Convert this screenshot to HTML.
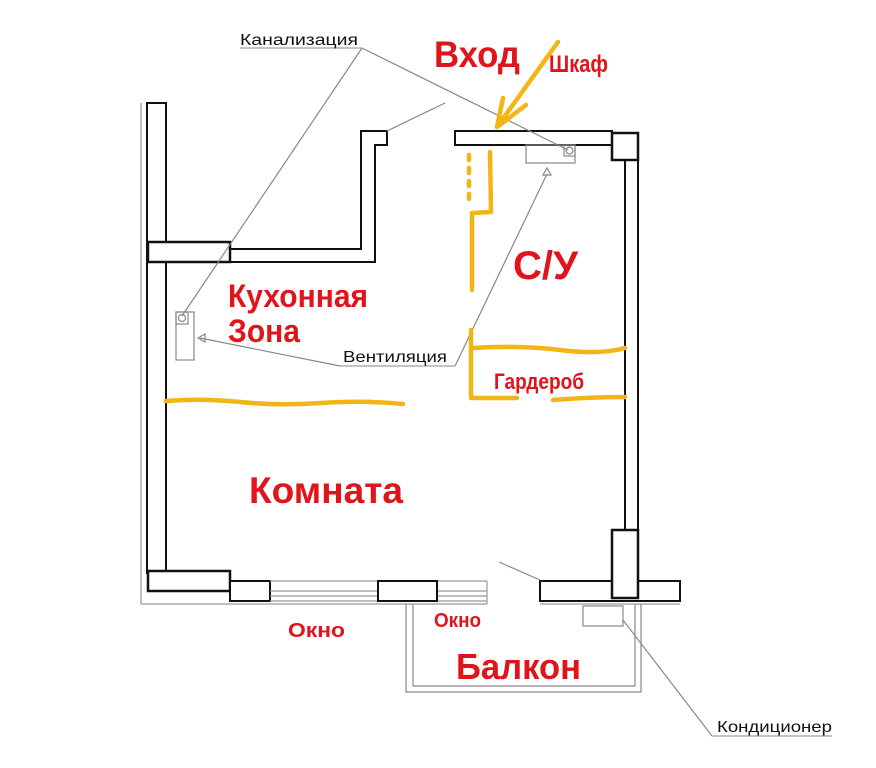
<!DOCTYPE html>
<html><head><meta charset="utf-8"><style>
html,body{margin:0;padding:0;background:#fff;}
svg{display:block;}
.r{font-family:"Liberation Sans","Noto Sans CJK SC",sans-serif;font-weight:bold;fill:#e0141b;}
.b{font-family:"Liberation Sans","Noto Sans CJK SC",sans-serif;fill:#111;}
</style></head><body>
<svg width="876" height="768" viewBox="0 0 876 768" xmlns="http://www.w3.org/2000/svg">
<g fill="#fff" stroke="#111" stroke-width="2">
 <line x1="141" y1="103" x2="141" y2="604" stroke="#aaa" stroke-width="1.5"/>
 <rect x="147" y="103" width="19" height="470"/>
 <rect x="148" y="242" width="82" height="20" stroke-width="2.5"/>
 <polyline points="230,249 361,249 361,131 387,131 387,145 375,145 375,262 230,262" fill="none"/>
 <rect x="455" y="131" width="157" height="14"/>
 <rect x="612" y="133" width="26" height="27" stroke-width="2.5"/>
 <line x1="625" y1="160" x2="625" y2="530"/>
 <line x1="638" y1="160" x2="638" y2="530"/>
 <line x1="141" y1="604" x2="487" y2="604" stroke="#aaa" stroke-width="1.5"/>
 <rect x="148" y="571" width="82" height="20" stroke-width="2.5"/>
 <rect x="230" y="581" width="40" height="20"/>
 <g stroke="#999" stroke-width="1.2">
  <line x1="270" y1="581" x2="378" y2="581"/><line x1="270" y1="591" x2="378" y2="591"/>
  <line x1="270" y1="596" x2="378" y2="596"/><line x1="270" y1="601" x2="378" y2="601"/>
  <line x1="437" y1="581" x2="487" y2="581"/><line x1="437" y1="591" x2="487" y2="591"/>
  <line x1="437" y1="596" x2="487" y2="596"/><line x1="437" y1="601" x2="487" y2="601"/>
  <line x1="487" y1="581" x2="487" y2="604"/>
 </g>
 <rect x="378" y="581" width="59" height="20"/>
 <rect x="540" y="581" width="140" height="20"/>
 <line x1="540" y1="604" x2="680" y2="604" stroke="#aaa" stroke-width="1.5"/>
 <rect x="612" y="530" width="26" height="68" stroke-width="2.5"/>
</g>
<g fill="none" stroke="#888" stroke-width="1.2">
 <polyline points="406,604 406,692 641,692 641,604"/>
 <polyline points="413,604 413,686 635,686 635,604"/>
 <rect x="583" y="606" width="40" height="20"/>
 <line x1="387" y1="131" x2="445" y2="103"/>
 <line x1="499" y1="562" x2="540" y2="580"/>
 <rect x="526" y="145" width="49" height="18"/>
 <rect x="564" y="145" width="11" height="11"/>
 <circle cx="569.5" cy="150.5" r="3.5"/>
 <rect x="176" y="312" width="18" height="48"/>
 <rect x="176" y="312" width="12" height="12"/>
 <circle cx="182" cy="318" r="3.5"/>
 <line x1="240" y1="48" x2="362" y2="48" stroke-width="1"/>
 <line x1="362" y1="48" x2="182" y2="316"/>
 <line x1="362" y1="48" x2="568" y2="150"/>
 <line x1="340" y1="366" x2="455" y2="366" stroke-width="1"/>
 <line x1="340" y1="366" x2="200" y2="338"/>
 <polygon points="198,338 205,334 205,342"/>
 <line x1="455" y1="366" x2="547" y2="174"/>
 <polygon points="547,168 543,175 551,175"/>
 <line x1="623" y1="620" x2="712" y2="736"/>
 <line x1="712" y1="736" x2="832" y2="736" stroke-width="1"/>
</g>
<g fill="none" stroke="#f3b416" stroke-width="4.5" stroke-linecap="round" stroke-linejoin="round">
 <path d="M166 401 Q200 398 240 402 T320 403 T403 404"/>
 <path d="M471 330 L471 398 L517 398"/>
 <path d="M553 400 Q590 397 625 397"/>
 <path d="M472 348 Q520 345 560 350 T625 348"/>
 <path d="M490 152 L491 212 L472 213 L472 290"/>
 <path d="M469 155 L469 205" stroke-dasharray="5 8"/>
 <path d="M558 42 L497 127 M503 98 L497 127 L526 105"/>
</g>
<text class="b" x="240" y="45" font-size="16" textLength="118" lengthAdjust="spacingAndGlyphs">Канализация</text>
<text class="b" x="343" y="362" font-size="16" textLength="104" lengthAdjust="spacingAndGlyphs">Вентиляция</text>
<text class="b" x="717" y="732" font-size="16" textLength="115" lengthAdjust="spacingAndGlyphs">Кондиционер</text>
<text class="r" x="434" y="67" font-size="37" textLength="86" lengthAdjust="spacingAndGlyphs">Вход</text>
<text class="r" x="549" y="72" font-size="24" textLength="59" lengthAdjust="spacingAndGlyphs">Шкаф</text>
<text class="r" x="513" y="279" font-size="40" textLength="65" lengthAdjust="spacingAndGlyphs">С/У</text>
<text class="r" x="228" y="307" font-size="32" textLength="140" lengthAdjust="spacingAndGlyphs">Кухонная</text>
<text class="r" x="228" y="342" font-size="32" textLength="72" lengthAdjust="spacingAndGlyphs">Зона</text>
<text class="r" x="494" y="389" font-size="22" textLength="90" lengthAdjust="spacingAndGlyphs">Гардероб</text>
<text class="r" x="249" y="503" font-size="37" textLength="154" lengthAdjust="spacingAndGlyphs">Комната</text>
<text class="r" x="288" y="637" font-size="20" textLength="57" lengthAdjust="spacingAndGlyphs">Окно</text>
<text class="r" x="434" y="627" font-size="20" textLength="47" lengthAdjust="spacingAndGlyphs">Окно</text>
<text class="r" x="456" y="679" font-size="36" textLength="125" lengthAdjust="spacingAndGlyphs">Балкон</text>
</svg>
</body></html>
